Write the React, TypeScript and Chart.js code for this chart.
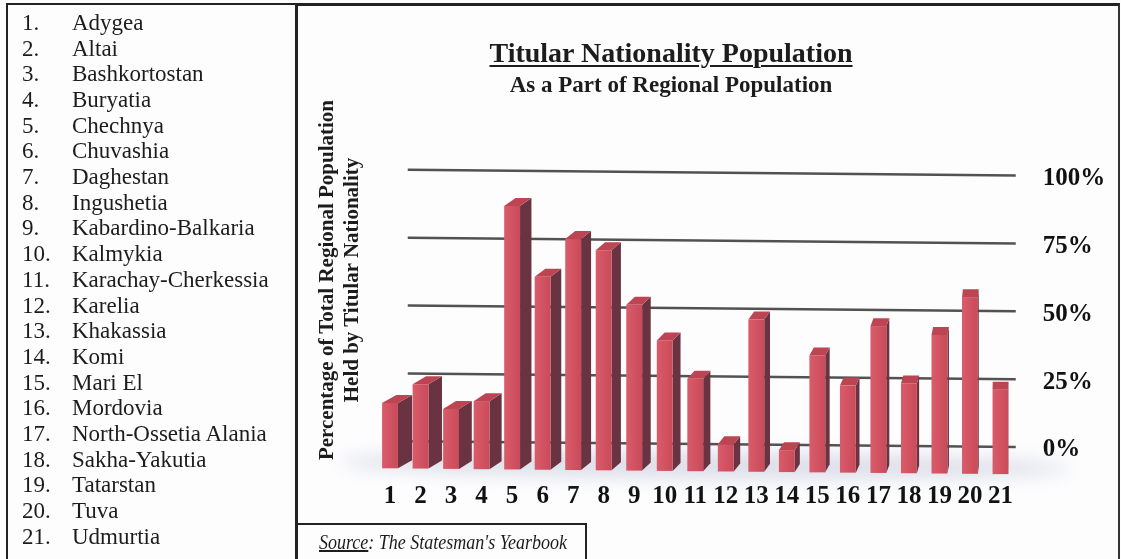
import React, { useEffect, useRef } from 'react';
import { Chart, registerables } from 'chart.js';

Chart.register(...registerables);

// ---------- data ----------
const CATEGORIES = ['1', '2', '3', '4', '5', '6', '7', '8', '9', '10', '11', '12', '13', '14', '15', '16', '17', '18', '19', '20', '21'];
const REGIONS = [
  'Adygea', 'Altai', 'Bashkortostan', 'Buryatia', 'Chechnya', 'Chuvashia', 'Daghestan', 'Ingushetia',
  'Kabardino-Balkaria', 'Kalmykia', 'Karachay-Cherkessia', 'Karelia', 'Khakassia', 'Komi', 'Mari El',
  'Mordovia', 'North-Ossetia Alania', 'Sakha-Yakutia', 'Tatarstan', 'Tuva', 'Udmurtia',
];
const TITULAR_SHARE = [17, 24, 15, 18, 90, 64, 78, 74, 54, 41, 27, 3, 49, 1, 36, 25, 47, 26, 44, 58, 24];
const Y_TICKS = [0, 25, 50, 75, 100];
const TITLE = 'Titular Nationality Population';
const SUBTITLE = 'As a Part of Regional Population';
const Y_TITLE = ['Percentage of Total Regional Population', 'Held by Titular Nationality'];

// ---------- style ----------
const SERIF = '"Liberation Serif", "Times New Roman", serif';
const Y_MIN = -10;
const BAR_BASE = -10;
const TILT = 0.0095;
const DEPTH_Y = 8;
const SIDE_K = 0.023;
const GRID_LEFT_INSET = 33;

const bar3dPlugin = {
  id: 'bar3d',
  beforeDatasetsDraw(chart: any) {
    const { ctx, chartArea, scales } = chart;
    const ys = scales.y;
    const cx = (chartArea.left + chartArea.right) / 2;
    const base = ys.getPixelForValue(BAR_BASE);
    // soft floor shadow
    ctx.save();
    ctx.filter = 'blur(9px)';
    ctx.fillStyle = 'rgba(165,172,198,0.38)';
    ctx.beginPath();
    ctx.ellipse(cx + 10, base - 6, (chartArea.right - chartArea.left) / 2 + 45, 13, TILT, 0, Math.PI * 2);
    ctx.fill();
    ctx.restore();
    // back-wall gridlines
    ctx.save();
    ctx.strokeStyle = '#525252';
    ctx.lineWidth = 2.5;
    const x1 = chartArea.left + GRID_LEFT_INSET;
    const x2 = chartArea.right;
    for (const v of Y_TICKS) {
      const py = ys.getPixelForValue(v);
      ctx.beginPath();
      ctx.moveTo(x1, py + (x1 - cx) * TILT);
      ctx.lineTo(x2, py + (x2 - cx) * TILT);
      ctx.stroke();
    }
    ctx.restore();
  },
  afterDatasetsDraw(chart: any) {
    const { ctx, chartArea } = chart;
    const cx = (chartArea.left + chartArea.right) / 2;
    const vx = chartArea.right - 8;
    const meta = chart.getDatasetMeta(0);
    ctx.save();
    meta.data.forEach((el: any) => {
      const { x, y, base, width } = el.getProps(['x', 'y', 'base', 'width'], true);
      const t = (x - cx) * TILT;
      const L = x - width / 2;
      const R = x + width / 2;
      const fTop = y + t + DEPTH_Y;
      const bot = base + t;
      const dx = Math.max(0, SIDE_K * (vx - x));
      // side face
      ctx.fillStyle = '#6a3341';
      ctx.beginPath();
      ctx.moveTo(R, fTop);
      ctx.lineTo(R + dx, fTop - DEPTH_Y);
      ctx.lineTo(R + dx, bot - DEPTH_Y);
      ctx.lineTo(R, bot);
      ctx.closePath();
      ctx.fill();
      // front face
      const g = ctx.createLinearGradient(L, 0, R, 0);
      g.addColorStop(0, '#da5c6b');
      g.addColorStop(1, '#c94a58');
      ctx.fillStyle = g;
      ctx.fillRect(L, fTop, R - L, bot - fTop);
      // top face
      ctx.fillStyle = '#bd4553';
      ctx.beginPath();
      ctx.moveTo(L, fTop);
      ctx.lineTo(R, fTop);
      ctx.lineTo(R + dx, fTop - DEPTH_Y);
      ctx.lineTo(L + dx, fTop - DEPTH_Y);
      ctx.closePath();
      ctx.fill();
    });
    ctx.restore();
  },
};

export default function App() {
  const canvasRef = useRef<HTMLCanvasElement | null>(null);

  useEffect(() => {
    const canvas = canvasRef.current;
    if (!canvas) return;
    const tickFont = { family: SERIF, size: 25, weight: 'bold' as const };
    const chart = new Chart(canvas, {
      type: 'bar',
      data: {
        labels: CATEGORIES,
        datasets: [
          {
            data: TITULAR_SHARE,
            backgroundColor: 'rgba(0,0,0,0)',
            borderWidth: 0,
            base: BAR_BASE,
            barPercentage: 0.52,
            categoryPercentage: 1,
          } as any,
        ],
      },
      plugins: [bar3dPlugin],
      options: {
        responsive: false,
        animation: false,
        devicePixelRatio: 1,
        layout: { padding: { left: 374.75, top: 172.5, right: 0, bottom: 0 } },
        plugins: {
          legend: { display: false },
          tooltip: { enabled: false },
          title: { display: false },
        },
        scales: {
          x: {
            grid: { display: false },
            border: { display: false },
            ticks: { color: '#111', font: tickFont, padding: 2, maxRotation: 0, autoSkip: false },
            afterFit: (s: any) => {
              s.height = 87.8;
            },
          },
          y: {
            position: 'right',
            min: Y_MIN,
            max: 100,
            grid: { display: false, drawTicks: false },
            border: { display: false },
            afterBuildTicks: (s: any) => {
              s.ticks = Y_TICKS.map((v) => ({ value: v }));
            },
            ticks: {
              color: '#111',
              font: tickFont,
              padding: 27,
              labelOffset: 6,
              callback: (v: any) => `${v}%`,
            },
            afterFit: (s: any) => {
              s.width = 105.25;
            },
          },
        },
      },
    });
    return () => chart.destroy();
  }, []);

  return (
    <div
      style={{
        position: 'fixed',
        left: 0,
        top: 0,
        width: 1121,
        height: 559,
        overflow: 'hidden',
        background: '#fdfdfe',
        fontFamily: SERIF,
        color: '#1c1c1c',
      }}
    >
      <canvas ref={canvasRef} width={1121} height={559} style={{ position: 'absolute', left: 0, top: 0 }} />

      {/* left panel border */}
      <div style={{ position: 'absolute', left: 6, top: 3, width: 290, height: 560, borderLeft: '2px solid #222', borderTop: '2px solid #222' }} />
      {/* right panel border */}
      <div style={{ position: 'absolute', left: 295, top: 3, width: 820, height: 560, borderLeft: '3px solid #222', borderTop: '3px solid #222', borderRight: '2px solid #333' }} />

      {/* region list */}
      <div style={{ position: 'absolute', left: 0, top: 9.9, fontSize: 23 }}>
        {REGIONS.map((name, i) => (
          <div key={name} style={{ position: 'absolute', top: i * 25.7, left: 0, height: 25.7, lineHeight: '25.7px', whiteSpace: 'nowrap' }}>
            <span style={{ position: 'absolute', left: 22 }}>{`${i + 1}.`}</span>
            <span style={{ position: 'absolute', left: 72 }}>{name}</span>
          </div>
        ))}
      </div>

      {/* titles */}
      <div style={{ position: 'absolute', left: 371, width: 600, top: 38.5, textAlign: 'center', fontSize: 28, lineHeight: '28px', fontWeight: 'bold', textDecoration: 'underline', textDecorationThickness: 2, textUnderlineOffset: 3, whiteSpace: 'nowrap' }}>
        {TITLE}
      </div>
      <div style={{ position: 'absolute', left: 371, width: 600, top: 72.5, textAlign: 'center', fontSize: 23, lineHeight: '23px', fontWeight: 'bold', whiteSpace: 'nowrap' }}>
        {SUBTITLE}
      </div>

      {/* y-axis title */}
      <div
        style={{
          position: 'absolute',
          left: 338.5 - 200,
          top: 280 - 25,
          width: 400,
          height: 50,
          transform: 'rotate(-90deg)',
          transformOrigin: 'center center',
          textAlign: 'center',
          fontSize: 21,
          lineHeight: '25px',
          fontWeight: 'bold',
          whiteSpace: 'nowrap',
        }}
      >
        <div>{Y_TITLE[0]}</div>
        <div>{Y_TITLE[1]}</div>
      </div>

      {/* source box */}
      <div style={{ position: 'absolute', left: 295, top: 523, width: 290, height: 45, borderTop: '2px solid #222', borderRight: '2px solid #222' }} />
      <div style={{ position: 'absolute', left: 319, top: 531, fontSize: 20, lineHeight: '22px', fontStyle: 'italic', whiteSpace: 'nowrap', transform: 'scaleX(0.9)', transformOrigin: 'left center' }}>
        <span style={{ textDecoration: 'underline' }}>Source</span>: The Statesman's Yearbook
      </div>
    </div>
  );
}
